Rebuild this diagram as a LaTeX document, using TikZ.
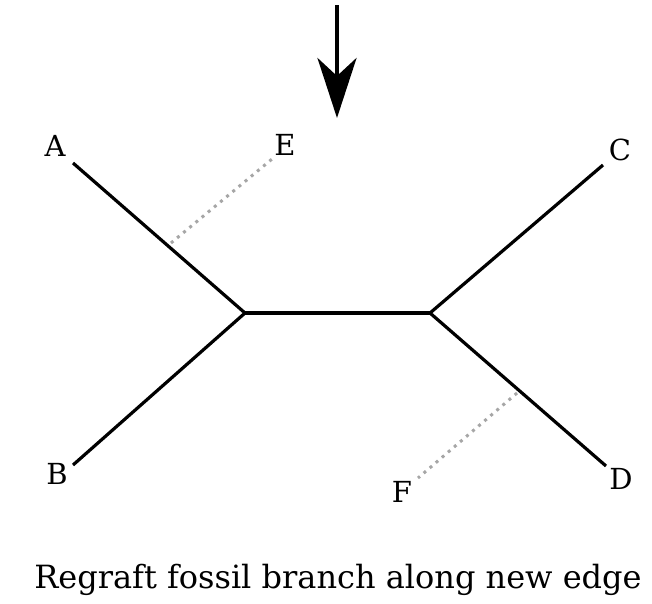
\documentclass[tikz,border=0pt]{standalone}
\usepackage{fontspec}
\setmainfont{DejaVu Serif}
\usetikzlibrary{arrows.meta}
\begin{document}
\begin{tikzpicture}[x=1pt,y=-1pt,
  branch/.style={line width=3.2pt,black},
  fossil/.style={line width=3pt,gray!70,dash pattern=on 3pt off 5pt},
  lab/.style={font=\fontsize{29}{34}\selectfont,inner sep=0pt},
]
\useasboundingbox (0,0) rectangle (652,603);
\coordinate (L) at (245,313);
\coordinate (R) at (430,313);
\coordinate (a) at (73,163);
\coordinate (b) at (73,465);
\coordinate (c) at (603,165);
\coordinate (d) at (606,466);
\coordinate (e) at (272,159);
\coordinate (f) at (418,478);
\node[lab] (A) at (55,146) {A};
\node[lab] (E) at (285,145) {E};
\node[lab] (C) at (620,150) {C};
\node[lab] (B) at (57,474) {B};
\node[lab] (F) at (402,492) {F};
\node[lab] (D) at (621,479) {D};
\draw[branch] (a) -- (L) -- (b);
\draw[branch] (L) -- (R);
\draw[branch] (c) -- (R) -- (d);
\coordinate (ea) at (171,243);
\coordinate (fd) at (517,393);
\draw[fossil] (ea) -- (e);
\draw[fossil] (fd) -- (f);
\coordinate (t0) at (337,5);
\coordinate (t1) at (337,118);
\draw[line width=4.5pt,-{Stealth[length=60pt,width=39pt,inset=18pt]}] (t0) -- (t1);
\node[font=\fontsize{32}{38}\selectfont,inner sep=0pt] (cap) at (338,580) {Regraft fossil branch along new edge};
\end{tikzpicture}
\end{document}
